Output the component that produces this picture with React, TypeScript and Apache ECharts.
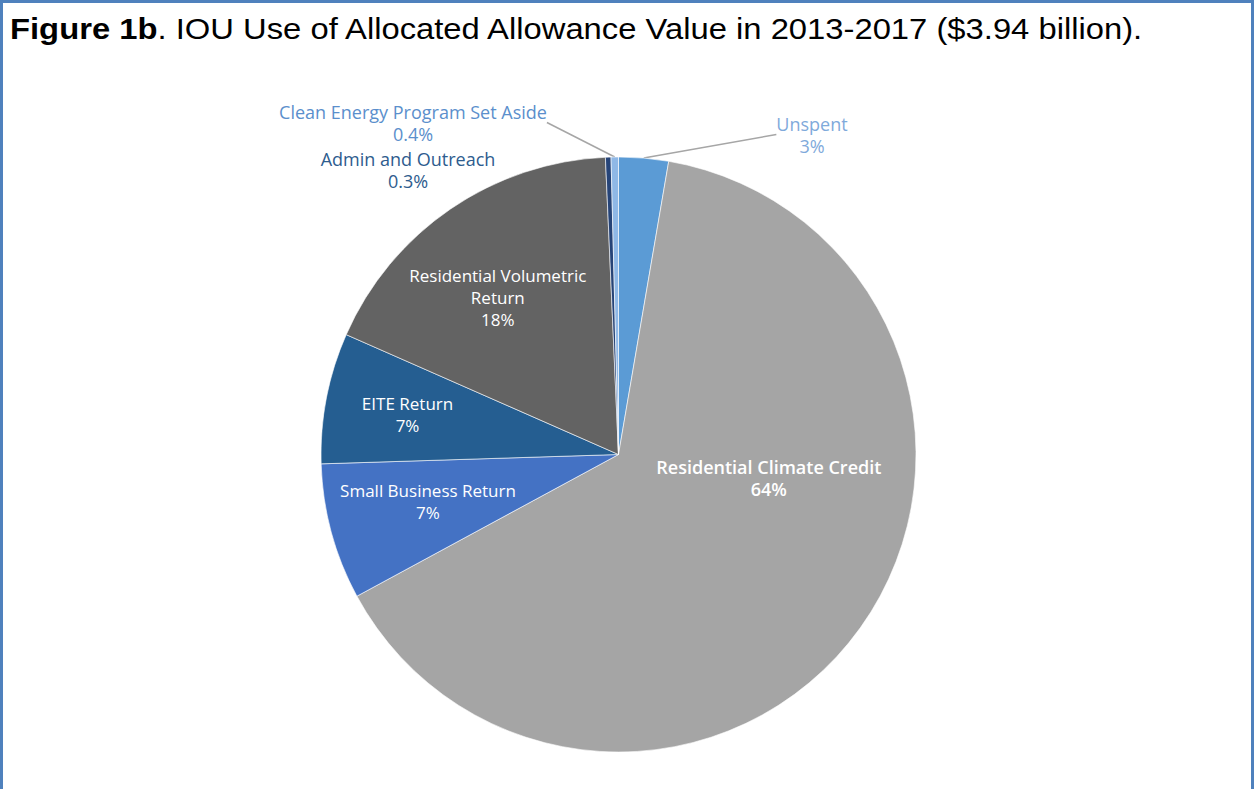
import React, { useEffect, useRef } from 'react';
import * as echarts from 'echarts';

// ---- data ----
const categories = [
  'Unspent',
  'Residential Climate Credit',
  'Small Business Return',
  'EITE Return',
  'Residential Volumetric Return',
  'Admin and Outreach',
  'Clean Energy Program Set Aside',
];
const labelNames = [
  'Unspent',
  'Residential Climate Credit',
  'Small Business Return',
  'EITE Return',
  'Residential Volumetric\nReturn',
  'Admin and Outreach',
  'Clean Energy Program Set Aside',
];
const shares = [2.7, 64.4, 7.4, 7.1, 17.7, 0.3, 0.4];
const shareLabels = ['3%', '64%', '7%', '7%', '18%', '0.3%', '0.4%'];
const titleBold = 'Figure 1b';
const titleRest = '. IOU Use of Allocated Allowance Value in 2013-2017 ($3.94 billion).';

// ---- styles ----
const sliceColors = ['#5B9BD5', '#A5A5A5', '#4472C4', '#255E91', '#636363', '#264478', '#8FB8E6'];
const outsideIdx = [0, 5, 6];
const outsideLabelColors: Record<number, string> = { 0: '#7FAADB', 5: '#2E5C8E', 6: '#5B8FCC' };
const insideShift: Record<number, [number, number]> = {
  1: [27, -65],
  2: [-44, 7],
  3: [-62, -11],
  4: [-35, -32],
};
const outsideAt: Record<number, [number, number]> = {
  0: [812, 134.5],
  5: [408, 170],
  6: [413, 122.5],
};

export default function App() {
  const ref = useRef<HTMLDivElement>(null);
  useEffect(() => {
    document.body.style.margin = '0';
    const chart = echarts.init(ref.current!, undefined, { renderer: 'svg' });
    const data = categories.map((name, i) => {
      const outside = outsideIdx.includes(i);
      return {
        name,
        value: shares[i],
        itemStyle: { color: sliceColors[i] },
        label: outside
          ? {
              position: 'outside',
              color: outsideLabelColors[i],
              fontWeight: 'normal',
              fontSize: 18,
            }
          : {
              position: 'inside',
              color: '#ffffff',
              fontWeight: i === 1 ? 600 : 'normal',
              fontSize: i === 1 ? 18 : 17,
            },
        labelLine: outside
          ? { show: i !== 5, length: 0, length2: 0, lineStyle: { color: '#A6A6A6', width: 1.5 } }
          : { show: false },
      };
    });
    chart.setOption({
      animation: false,
      backgroundColor: '#ffffff',
      graphic: [
        {
          type: 'rect',
          shape: { x: 1.5, y: 1.5, width: 1251, height: 800 },
          style: { fill: 'none', stroke: '#4F81BD', lineWidth: 3 },
          silent: true,
        },
        {
          type: 'text',
          x: 10,
          y: 15,
          scaleX: 1.13,
          silent: true,
          style: {
            text: `{b|${titleBold}}${titleRest}`,
            fontFamily: 'Liberation Sans',
            fontSize: 29,
            fill: '#000000',
            verticalAlign: 'top',
            rich: {
              b: { fontFamily: 'Liberation Sans', fontSize: 29, fontWeight: 'bold', fill: '#000000' },
            },
          },
        },
      ],
      series: [
        {
          type: 'pie',
          center: [618.5, 454.5],
          radius: [0, 297.5],
          startAngle: 90,
          clockwise: true,
          avoidLabelOverlap: false,
          minAngle: 0,
          itemStyle: { borderColor: '#ffffff', borderWidth: 0.6 },
          label: {
            show: true,
            fontFamily: 'Open Sans',
            fontSize: 17,
            lineHeight: 22,
            align: 'center',
            formatter: (p: any) => `${labelNames[p.dataIndex]}\n${shareLabels[p.dataIndex]}`,
          },
          labelLayout: (p: any) => {
            const i = p.dataIndex;
            if (outsideAt[i]) {
              return { x: outsideAt[i][0], y: outsideAt[i][1], align: 'center', verticalAlign: 'middle' };
            }
            const s = insideShift[i] || [0, 0];
            return { dx: s[0], dy: s[1] };
          },
          data,
        },
      ],
    });
    return () => chart.dispose();
  }, []);
  return <div ref={ref} style={{ width: 1254, height: 789 }} />;
}
